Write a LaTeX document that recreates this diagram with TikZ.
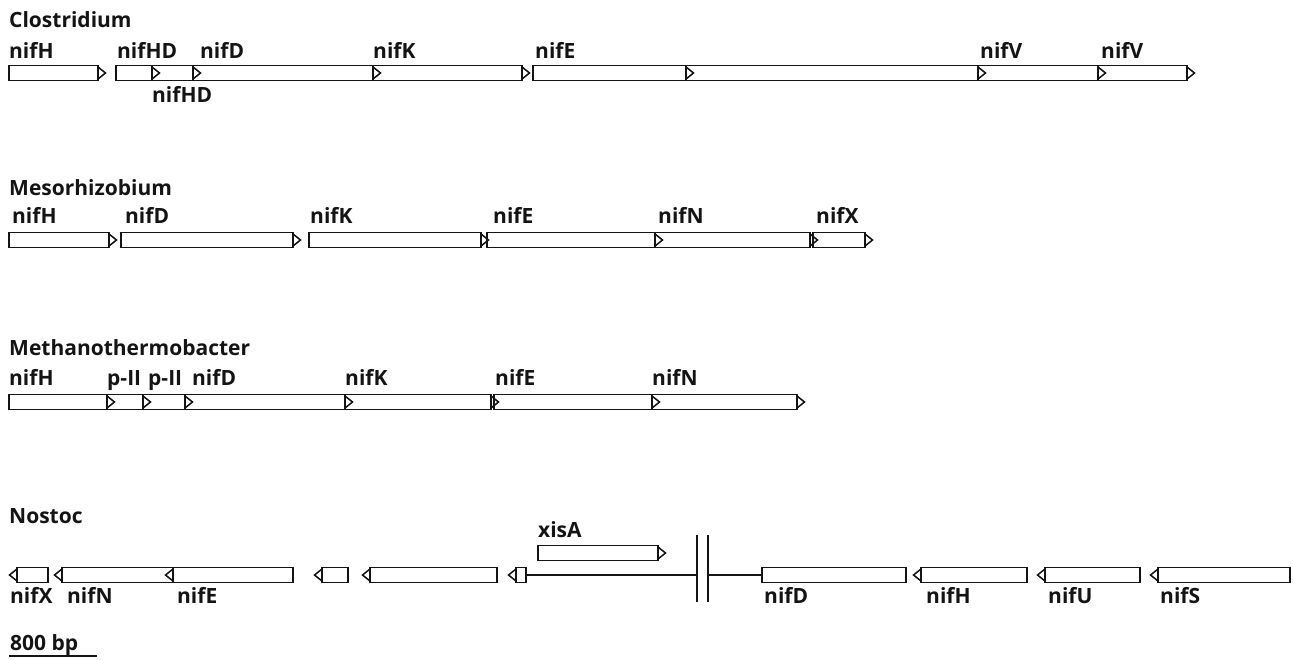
\documentclass[tikz,border=0pt]{standalone}
\usepackage{fontspec}
\setmainfont{Open Sans}
\colorlet{ink}{black!92}
\tikzset{
  x=1pt, y=-1pt,
  genebox/.style={draw=ink, line width=1.5pt, inner sep=0pt, outer sep=0pt, minimum height=15pt},
  genetip/.style={draw=ink, line width=1.5pt, line join=miter},
  lbl/.style={inner sep=0pt, anchor=base west, text=ink, font=\bfseries\fontsize{21}{25}\selectfont},
  wire/.style={draw=ink, line width=1.1pt},
}
% forward gene: rectangle from #2 to #3 at height #4, tip pointing right
\newcommand\fgene[4]{%
  \node[genebox, minimum width={(#3-#2)*1pt}] (#1) at ({(#2+#3)/2},#4) {};
  \draw[genetip] (#1.east) ++(0,-6) -- ++(7.5,6) -- ++(-7.5,6) -- cycle;}
% reverse gene: tip on the left, pointing left
\newcommand\rgene[4]{%
  \node[genebox, minimum width={(#3-#2)*1pt}] (#1) at ({(#2+#3)/2},#4) {};
  \draw[genetip] (#1.west) ++(0,-6) -- ++(-7.5,6) -- ++(7.5,6) -- cycle;}
% gene without a tip
\newcommand\pgene[4]{%
  \node[genebox, minimum width={(#3-#2)*1pt}] (#1) at ({(#2+#3)/2},#4) {};}
\begin{document}
\begin{tikzpicture}
\useasboundingbox (0,0) rectangle (1293,659);

% ---------------- Clostridium ----------------
\node[lbl] (tC) at (9,27) {Clostridium};
\fgene{cH}{9}{98}{73}
\fgene{cHDa}{116}{152}{73}
\fgene{cHDb}{152}{193}{73}
\fgene{cD}{193}{373}{73}
\fgene{cK}{373}{522}{73}
\fgene{cEa}{533}{686}{73}
\fgene{cEb}{686}{978}{73}
\fgene{cVa}{978}{1098}{73}
\fgene{cVb}{1098}{1187}{73}
\node[lbl] (lcH) at (9,58) {nifH};
\node[lbl] (lcHDa) at (117,58) {nifHD};
\node[lbl] (lcD) at (200,58) {nifD};
\node[lbl] (lcK) at (373,58) {nifK};
\node[lbl] (lcE) at (535,58) {nifE};
\node[lbl] (lcVa) at (980,58) {nifV};
\node[lbl] (lcVb) at (1101,58) {nifV};
\node[lbl] (lcHDb) at (152,102) {nifHD};

% ---------------- Mesorhizobium ----------------
\node[lbl] (tM) at (9,195) {Mesorhizobium};
\fgene{mH}{9}{109}{240}
\fgene{mD}{121}{293}{240}
\fgene{mK}{309}{481}{240}
\fgene{mE}{487}{655}{240}
\fgene{mN}{655}{810}{240}
\fgene{mX}{813}{865}{240}
\node[lbl] (lmH) at (12,223) {nifH};
\node[lbl] (lmD) at (125,223) {nifD};
\node[lbl] (lmK) at (310,223) {nifK};
\node[lbl] (lmE) at (493,223) {nifE};
\node[lbl] (lmN) at (658,223) {nifN};
\node[lbl] (lmX) at (816,223) {nifX};

% ---------------- Methanothermobacter ----------------
\node[lbl] (tT) at (9,355) {Methanothermobacter};
\fgene{tH}{9}{107}{402}
\fgene{tPa}{107}{143}{402}
\fgene{tPb}{143}{185}{402}
\fgene{tD}{185}{345}{402}
\fgene{tK}{345}{491}{402}
\fgene{tE}{494}{652}{402}
\fgene{tN}{652}{797}{402}
\node[lbl] (ltH) at (9,385) {nifH};
\node[lbl] (ltPa) at (107,385) {p-II};
\node[lbl] (ltPb) at (148,385) {p-II};
\node[lbl] (ltD) at (192,385) {nifD};
\node[lbl] (ltK) at (345,385) {nifK};
\node[lbl] (ltE) at (495,385) {nifE};
\node[lbl] (ltN) at (652,385) {nifN};

% ---------------- Nostoc ----------------
\node[lbl] (tN) at (9,523) {Nostoc};
\rgene{nX}{17}{48}{575}
\rgene{nN}{62}{173}{575}
\rgene{nE}{173}{293}{575}
\rgene{nS1}{322}{348}{575}
\rgene{nS2}{370}{497}{575}
\rgene{nS3}{516}{526}{575}
\fgene{nXis}{538}{658}{553}
\pgene{nD}{762}{906}{575}
\rgene{nH}{921}{1027}{575}
\rgene{nU}{1045}{1140}{575}
\rgene{nSf}{1158}{1290}{575}
% break in the sequence
\coordinate (brkA) at (697,575);
\coordinate (brkB) at (708,575);
\draw[wire] (nS3.east) -- (brkA);
\draw[wire] (brkB) -- (nD.west);
\draw[wire] (697,535) -- (697,602);
\draw[wire] (708,535) -- (708,602);
\node[lbl] (lnXis) at (538,537) {xisA};
\node[lbl] (lnX) at (10,603) {nifX};
\node[lbl] (lnN) at (67,603) {nifN};
\node[lbl] (lnE) at (177,603) {nifE};
\node[lbl] (lnD) at (764,603) {nifD};
\node[lbl] (lnH) at (926,603) {nifH};
\node[lbl] (lnU) at (1048,603) {nifU};
\node[lbl] (lnSf) at (1160,603) {nifS};

% ---------------- scale bar ----------------
\node[lbl] (sb) at (10,650) {800 bp};
\coordinate (sbL) at (9,656);
\coordinate (sbR) at (97,656);
\draw[wire] (sbL) -- (sbR);
\end{tikzpicture}
\end{document}
